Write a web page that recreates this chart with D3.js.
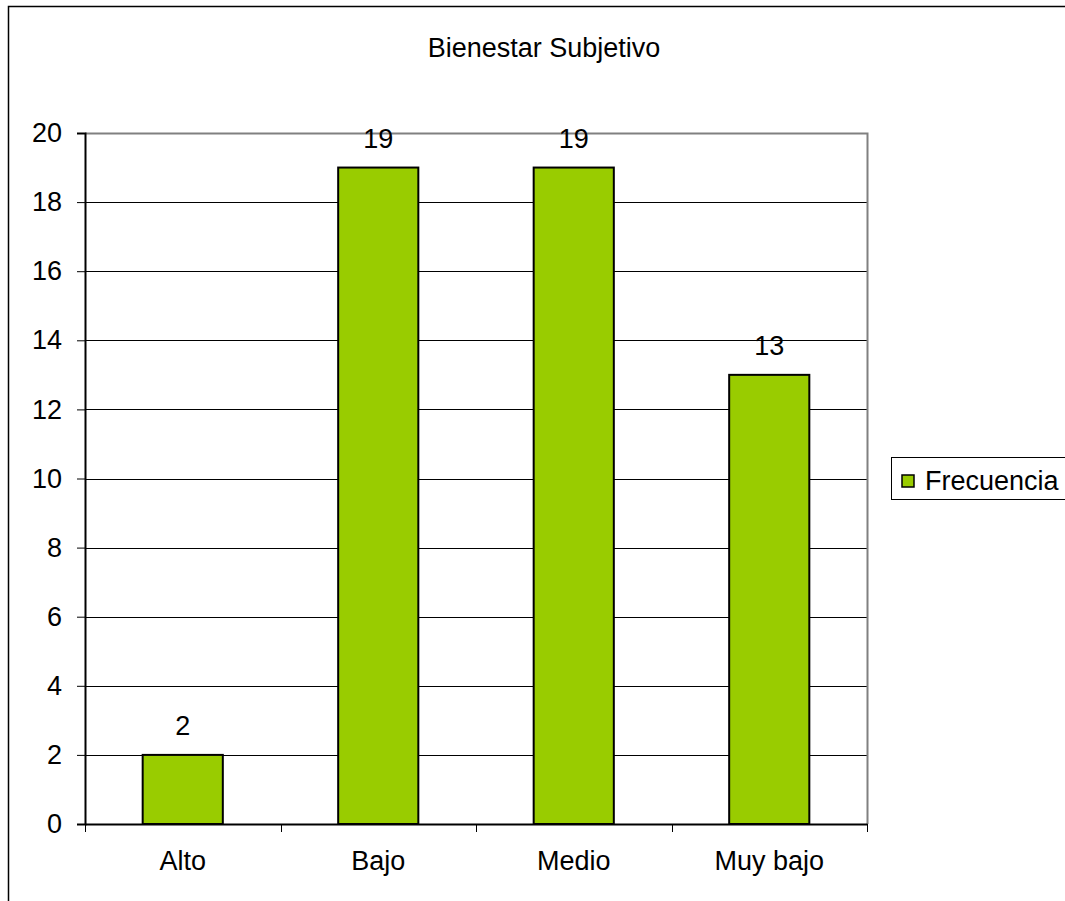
<!DOCTYPE html>
<html>
<head>
<meta charset="utf-8">
<script src="https://cdn.jsdelivr.net/npm/d3@7"></script>
<style>
  body { margin: 0; background: #fff; overflow: hidden; }
  svg { display: block; }
  text { font-family: "Liberation Sans", Arial, sans-serif; fill: #000; }
</style>
</head>
<body>
<script>
// chart data
var categories = ["Alto", "Bajo", "Medio", "Muy bajo"];
var frecuencia = [2, 19, 19, 13];
var yTicks = [0, 2, 4, 6, 8, 10, 12, 14, 16, 18, 20];
var seriesName = "Frecuencia";
var title = "Bienestar Subjetivo";

var width = 1065, height = 901;
var plot = { left: 85, right: 867, top: 133, bottom: 824 };
var barColor = "#99cc00";
var fs = "27px";

var svg = d3.select("body").append("svg")
    .attr("width", width)
    .attr("height", height);

// outer chart border (runs off the right and bottom)
svg.append("rect")
    .attr("x", 8.5).attr("y", 6.5)
    .attr("width", 1100).attr("height", 1000)
    .attr("fill", "none")
    .attr("stroke", "#000")
    .attr("stroke-width", 1.5);

svg.append("text")
    .attr("x", 544).attr("y", 57)
    .attr("text-anchor", "middle")
    .attr("font-size", fs)
    .text(title);

var x = d3.scaleBand()
    .domain(categories)
    .range([plot.left, plot.right])
    .paddingInner(0.59)
    .paddingOuter(0.295);

var xOuter = d3.scaleBand()
    .domain(categories)
    .range([plot.left, plot.right]);

var y = d3.scaleLinear()
    .domain([0, 20])
    .range([plot.bottom, plot.top]);

// gridlines
svg.append("g")
  .selectAll("line")
  .data(yTicks.filter(function(d) { return d > 0 && d < 20; }))
  .enter().append("line")
    .attr("x1", plot.left).attr("x2", plot.right)
    .attr("y1", function(d) { return Math.round(y(d)) + 0.5; })
    .attr("y2", function(d) { return Math.round(y(d)) + 0.5; })
    .attr("stroke", "#000")
    .attr("stroke-width", 1);

// plot frame top and right (grey)
svg.append("path")
    .attr("d", "M" + plot.left + "," + (plot.top + 0.5) + "H" + (plot.right + 0.5) + "V" + plot.bottom)
    .attr("fill", "none")
    .attr("stroke", "#808080")
    .attr("stroke-width", 2);

// bars
svg.append("g")
  .selectAll("rect")
  .data(frecuencia)
  .enter().append("rect")
    .attr("x", function(d, i) { return x(categories[i]); })
    .attr("y", function(d) { return y(d); })
    .attr("width", x.bandwidth())
    .attr("height", function(d) { return y(0) - y(d); })
    .attr("fill", barColor)
    .attr("stroke", "#000")
    .attr("stroke-width", 2);

// value labels
svg.append("g")
  .selectAll("text")
  .data(frecuencia)
  .enter().append("text")
    .attr("x", function(d, i) { return x(categories[i]) + x.bandwidth() / 2; })
    .attr("y", function(d) { return y(d) - 20; })
    .attr("text-anchor", "middle")
    .attr("font-size", fs)
    .text(function(d) { return d; });

// y axis
var yAxis = svg.append("g")
    .attr("transform", "translate(" + plot.left + ",0)")
    .call(d3.axisLeft(y).tickValues(yTicks).tickSize(8).tickPadding(15));
yAxis.select(".domain").attr("stroke", "#000").attr("stroke-width", 2);
yAxis.selectAll(".tick line").attr("stroke", "#000");
yAxis.selectAll(".tick text")
    .attr("font-size", fs)
    .attr("font-family", "Liberation Sans, Arial, sans-serif")
    .attr("fill", "#000");

// x axis
var xAxis = svg.append("g")
    .attr("transform", "translate(0," + plot.bottom + ")")
    .call(d3.axisBottom(xOuter).tickSize(0).tickPadding(27));
xAxis.select(".domain").attr("stroke", "#000").attr("stroke-width", 2);
xAxis.selectAll(".tick text")
    .attr("font-size", fs)
    .attr("font-family", "Liberation Sans, Arial, sans-serif")
    .attr("fill", "#000");

// x tick marks between categories
var bounds = categories.map(function(c) { return xOuter(c); }).concat([plot.right]);
svg.append("g")
  .selectAll("line")
  .data(bounds)
  .enter().append("line")
    .attr("x1", function(d) { return Math.round(d) + 0.5; })
    .attr("x2", function(d) { return Math.round(d) + 0.5; })
    .attr("y1", plot.bottom)
    .attr("y2", plot.bottom + 8)
    .attr("stroke", "#000");

// legend
var legend = svg.append("g");
legend.append("rect")
    .attr("x", 891.5).attr("y", 457.5)
    .attr("width", 180).attr("height", 42)
    .attr("fill", "#fff")
    .attr("stroke", "#000");
legend.append("rect")
    .attr("x", 902).attr("y", 475)
    .attr("width", 12).attr("height", 12)
    .attr("fill", barColor)
    .attr("stroke", "#000")
    .attr("stroke-width", 1.5);
legend.append("text")
    .attr("x", 925).attr("y", 490)
    .attr("font-size", fs)
    .text(seriesName);
</script>
</body>
</html>
